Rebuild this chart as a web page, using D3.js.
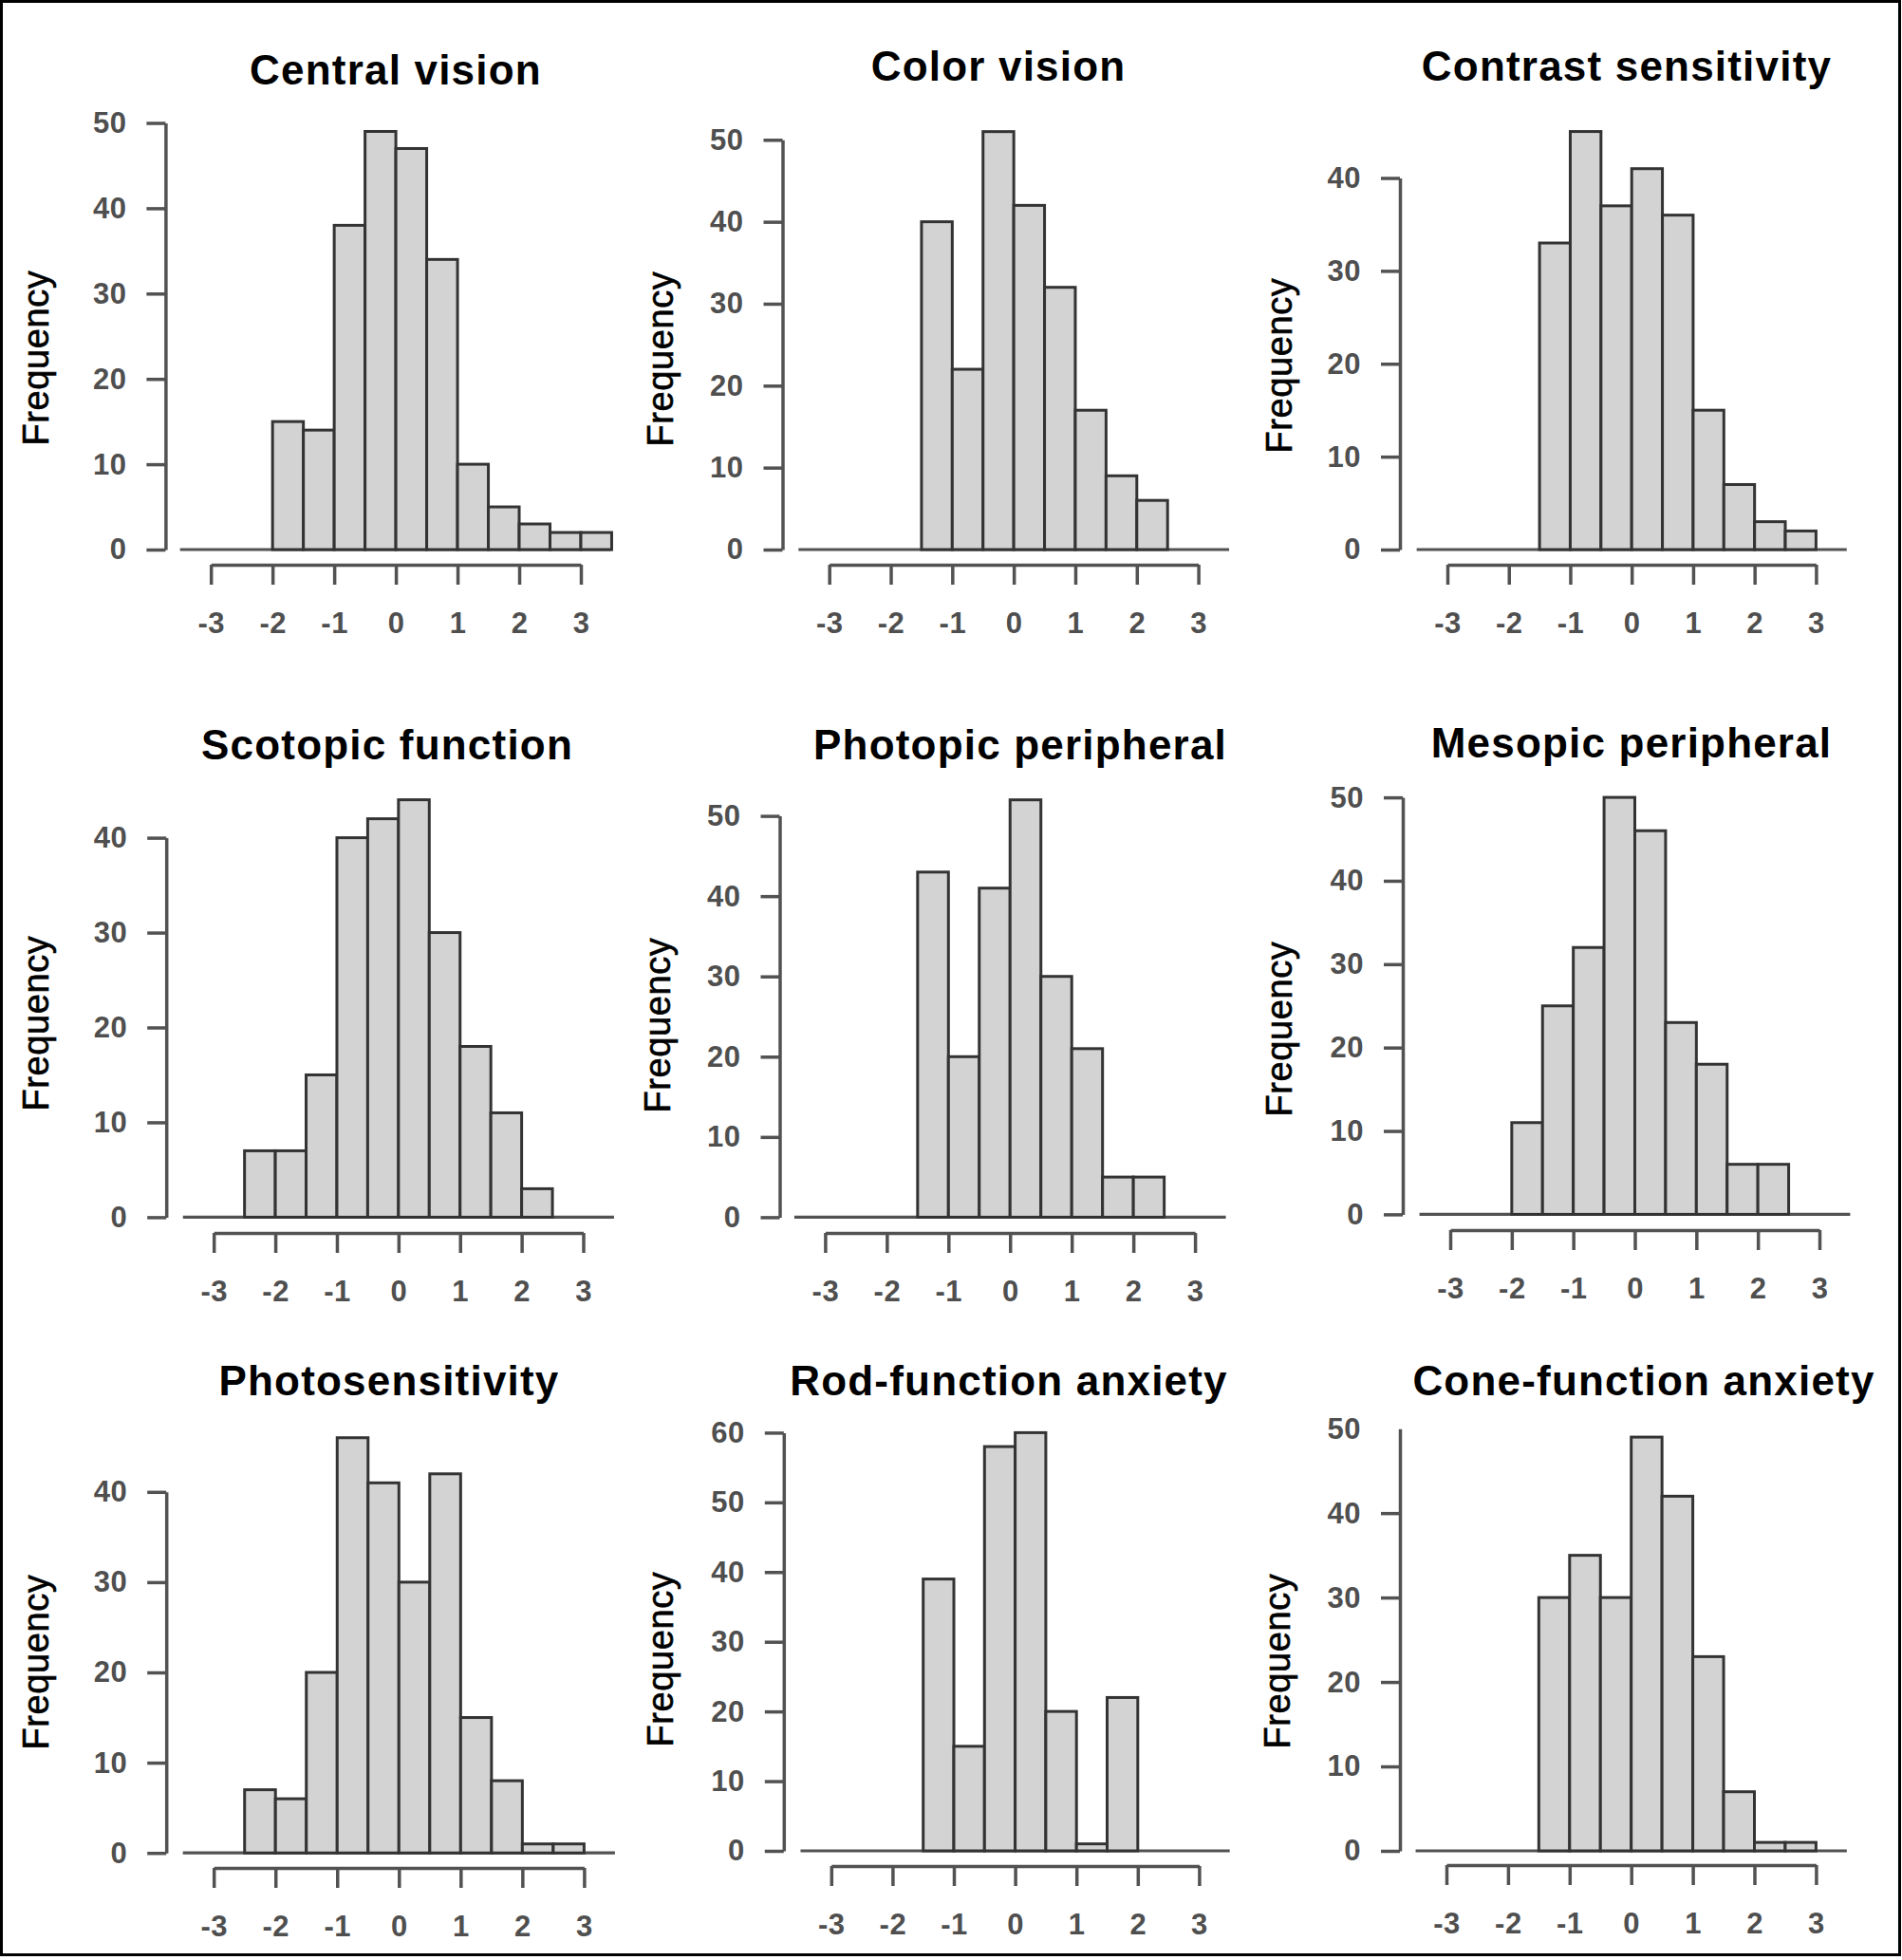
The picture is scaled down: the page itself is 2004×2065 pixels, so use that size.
<!DOCTYPE html>
<html>
<head>
<meta charset="utf-8">
<script src="https://cdn.jsdelivr.net/npm/d3@7"></script>
<style>
  html, body { margin: 0; padding: 0; background: #fff; }
  svg { display: block; }
</style>
</head>
<body>
<script>
// ---------------- data ----------------
const titles = ["Central vision", "Color vision", "Contrast sensitivity",
                "Scotopic function", "Photopic peripheral", "Mesopic peripheral",
                "Photosensitivity", "Rod-function anxiety", "Cone-function anxiety"];
const binWidth = 0.5;
const binStart = [-2, -1.5, -1.5, -2.5, -1.5, -2, -2.5, -1.5, -1.5];
const centralVision       = [15, 14, 38, 49, 47, 34, 10, 5, 3, 2, 2];
const colorVision         = [40, 22, 51, 42, 32, 17, 9, 6];
const contrastSensitivity = [33, 45, 37, 41, 36, 15, 7, 3, 2];
const scotopicFunction    = [7, 7, 15, 40, 42, 44, 30, 18, 11, 3];
const photopicPeripheral  = [43, 20, 41, 52, 30, 21, 5, 5];
const mesopicPeripheral   = [11, 25, 32, 50, 46, 23, 18, 6, 6];
const photosensitivity    = [7, 6, 20, 46, 41, 30, 42, 15, 8, 1, 1];
const rodAnxiety          = [39, 15, 58, 60, 20, 1, 22];
const coneAnxiety         = [30, 35, 30, 49, 42, 23, 7, 1, 1];
const counts = [centralVision, colorVision, contrastSensitivity, scotopicFunction,
                photopicPeripheral, mesopicPeripheral, photosensitivity, rodAnxiety, coneAnxiety];
const yTickMax = [50, 50, 40, 40, 50, 50, 40, 60, 50];
const yTickStep = 10;
const xTicks = [-3, -2, -1, 0, 1, 2, 3];
const baselineRange = [-3.5, 3.5];
const yLabel = "Frequency";

// ---------------- layout (pixel positions of each panel) ----------------
const layout = [
  {ax:174.4, x0:222.2, x1:612.0, y0:579.0, yTop:129.5, xAxisY:595, tx:417, ty:89, fx:51, fy:377},
  {ax:824.5, x0:873.7, x1:1262.6, y0:579.0, yTop:147.3, xAxisY:595, tx:1052, ty:85, fx:709, fy:378},
  {ax:1475, x0:1525, x1:1913.4, y0:579.0, yTop:187.5, xAxisY:595, tx:1714, ty:85, fx:1361, fy:385},
  {ax:175.2, x0:225.2, x1:614.5, y0:1282.4, yTop:882.6, xAxisY:1299, tx:408, ty:800, fx:51, fy:1078},
  {ax:821.5, x0:869.4, x1:1259.1, y0:1282.4, yTop:859.6, xAxisY:1299, tx:1075, ty:800, fx:706, fy:1080},
  {ax:1478, x0:1528, x1:1917, y0:1279.4, yTop:840.1, xAxisY:1296, tx:1719, ty:798, fx:1361, fy:1084},
  {ax:175.2, x0:225.2, x1:615.4, y0:1952.2, yTop:1571.8, xAxisY:1968, tx:410, ty:1470, fx:51, fy:1751},
  {ax:825.8, x0:875.8, x1:1263.4, y0:1950, yTop:1509.4, xAxisY:1966, tx:1063, ty:1470, fx:709, fy:1748},
  {ax:1475, x0:1524, x1:1913.4, y0:1950, yTop:1505.2, xAxisY:1965, tx:1732, ty:1470, fx:1359, fy:1750, hideTopTick:true}
];

const W = 2004, H = 2065;
const FONT = "'Liberation Sans', Arial, Helvetica, sans-serif";
const axisColor = "#525252";
const barStroke = "#333333";
const barFill = "#d3d3d3";
const labelColor = "#4f4f4f";

const svg = d3.select("body").append("svg")
  .attr("width", W).attr("height", H)
  .style("background", "#fff");

svg.append("rect")
  .attr("x", 1.5).attr("y", 1.5)
  .attr("width", 2000).attr("height", 2058)
  .attr("fill", "#fff").attr("stroke", "#000").attr("stroke-width", 3);

titles.forEach((title, i) => {
  const L = layout[i];
  const g = svg.append("g");
  const x = d3.scaleLinear().domain([xTicks[0], xTicks[xTicks.length - 1]]).range([L.x0, L.x1]);
  const y = d3.scaleLinear().domain([0, yTickMax[i]]).range([L.y0, L.yTop]);
  const yTicks = d3.range(0, yTickMax[i] + 1, yTickStep);

  // zero line (empty bins)
  g.append("line")
    .attr("x1", x(baselineRange[0])).attr("x2", x(baselineRange[1]))
    .attr("y1", y(0)).attr("y2", y(0))
    .attr("stroke", axisColor).attr("stroke-width", 3.2);

  // bars
  const bins = counts[i].map((c, k) => ({x0: binStart[i] + k * binWidth, x1: binStart[i] + (k + 1) * binWidth, c}));
  g.selectAll("rect.bar").data(bins).join("rect")
    .attr("class", "bar")
    .attr("x", d => x(d.x0))
    .attr("width", d => x(d.x1) - x(d.x0))
    .attr("y", d => y(d.c))
    .attr("height", d => y(0) - y(d.c))
    .attr("fill", barFill)
    .attr("stroke", barStroke)
    .attr("stroke-width", 3);

  // y axis
  const yAxis = d3.axisLeft(y).tickValues(yTicks).tickSize(20).tickSizeOuter(0).tickPadding(21)
    .tickFormat(d3.format("d"));
  const ya = g.append("g").attr("transform", `translate(${L.ax},0)`).call(yAxis);
  if (L.hideTopTick) ya.selectAll(".tick").filter(d => d === yTickMax[i]).select("line").remove();
  // x axis
  const xAxis = d3.axisBottom(x).tickValues(xTicks).tickSize(21).tickSizeOuter(0).tickPadding(29)
    .tickFormat(d => d < 0 ? "-" + Math.abs(d) : String(d));
  const xa = g.append("g").attr("transform", `translate(0,${L.xAxisY})`).call(xAxis);

  [ya, xa].forEach(a => {
    a.select(".domain").attr("stroke", axisColor).attr("stroke-width", 3.5);
    a.selectAll(".tick line").attr("stroke", axisColor).attr("stroke-width", 3.5);
    a.selectAll(".tick text")
      .attr("fill", labelColor)
      .style("font-family", FONT)
      .style("font-weight", "bold")
      .style("font-size", "31px")
      .style("letter-spacing", "0.5px");
  });

  // title
  g.append("text")
    .attr("x", L.tx).attr("y", L.ty)
    .attr("text-anchor", "middle")
    .style("font-family", FONT)
    .style("font-weight", "bold")
    .style("font-size", "44px")
    .style("letter-spacing", "1.2px")
    .attr("fill", "#000")
    .text(title);

  // y label
  g.append("text")
    .attr("transform", `translate(${L.fx},${L.fy}) rotate(-90)`)
    .attr("text-anchor", "middle")
    .style("font-family", FONT)
    .style("font-size", "38px")
    .style("letter-spacing", "0.6px")
    .attr("fill", "#000")
    .attr("stroke", "#000")
    .attr("stroke-width", 0.6)
    .text(yLabel);
});
</script>
</body>
</html>
